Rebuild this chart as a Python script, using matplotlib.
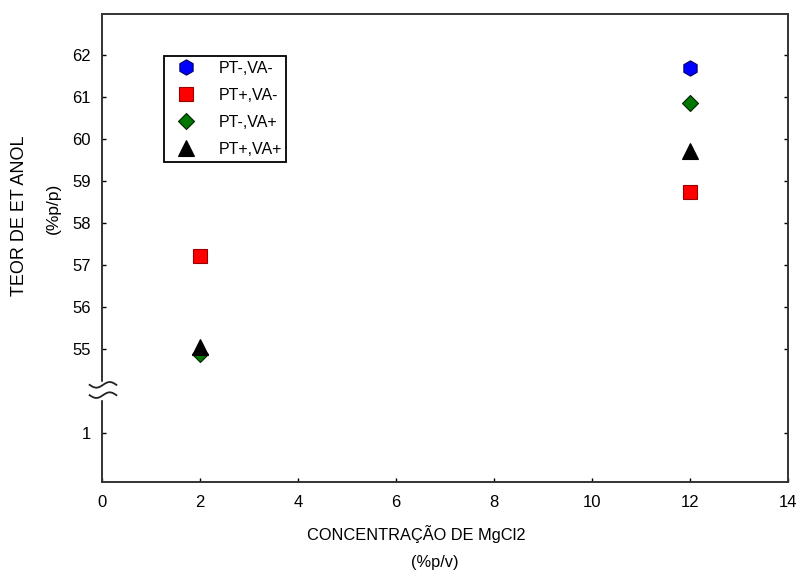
import numpy as np
import matplotlib
matplotlib.use("Agg")
import matplotlib.pyplot as plt

plt.rcParams['font.family'] = ['Liberation Sans', 'DejaVu Sans']

# data (y on the broken scale: 1 is shown just below the break)
x_vals = [2, 12]
pt_m_va_m = [61.7]          # blue, only visible at x=12
pt_p_va_m = [57.22, 58.75]  # red
pt_m_va_p = [54.88, 60.86]  # green
pt_p_va_p = [55.05, 59.72]  # black

y_ticks = [1, 55, 56, 57, 58, 59, 60, 61, 62]
x_ticks = [0, 2, 4, 6, 8, 10, 12, 14]

BREAK_LO = 1     # real value below the break
BREAK_POS = 53   # where it sits on the drawn scale


def ymap(v):
    v = np.asarray(v, dtype=float)
    return np.where(v < 10, v - BREAK_LO + BREAK_POS, v)


fig = plt.figure(figsize=(7.98, 5.72), dpi=100)
ax = fig.add_axes([0.1278, 0.1573, 0.8597, 0.8182])

ax.plot([12], ymap(pt_m_va_m), 'h', ms=11, mfc='#0000ff', mec='#000066', mew=0.8,
        ls='none', label='PT-,VA-')
ax.plot(x_vals, ymap(pt_p_va_m), 's', ms=10, mfc='#ff0000', mec='#990000', mew=0.8,
        ls='none', label='PT+,VA-')
ax.plot(x_vals, ymap(pt_m_va_p), 'D', ms=8, mfc='#007700', mec='#002200', mew=0.8,
        ls='none', label='PT-,VA+')
ax.plot(x_vals, ymap(pt_p_va_p), '^', ms=11, mfc='#000000', mec='#000000', mew=0.8,
        ls='none', label='PT+,VA+')

ax.set_xlim(0, 14)
ax.set_ylim(51.83, 62.98)
ax.set_xticks(x_ticks)
ax.set_yticks(ymap(y_ticks))
ax.set_yticklabels([str(t) for t in y_ticks])
ax.tick_params(direction='in', length=3, width=1, labelsize=12,
               top=False, right=True, pad=8)
ax.tick_params(axis='x', pad=9)
for s in ax.spines.values():
    s.set_linewidth(1.4)
    s.set_color('#333333')

# axis break marks on the left spine
yb = (54 - 51.83) / (62.98 - 51.83)
t = np.linspace(-0.018, 0.021, 50)
ax.fill_between(t, yb - 0.018, yb + 0.020, color='white', transform=ax.transAxes,
                clip_on=False, zorder=5)
for dy in (0.013, -0.009):
    yy = yb + dy + 0.006 * np.sin((t - 0.0015) / 0.0195 * np.pi)
    ax.plot(t, yy, color='#222222', lw=1.3, transform=ax.transAxes, clip_on=False, zorder=6)

# axis titles
fig.text(416 / 798, 1 - 534 / 572, 'CONCENTRAÇÃO DE MgCl2', fontsize=11.8,
         ha='center', va='center')
fig.text(435 / 798, 1 - 562 / 572, '(%p/v)', fontsize=11.8, ha='center', va='center')
fig.text(20 / 798, 1 - 216 / 572, 'TEOR DE ET ANOL', fontsize=13, rotation=90,
         ha='center', va='center')
fig.text(53 / 798, 1 - 208 / 572, '(%p/p)', fontsize=12.5, rotation=90,
         ha='center', va='center')

leg = ax.legend(loc='upper left', bbox_to_anchor=(0.0904, 0.910), fontsize=11.5,
                frameon=True, fancybox=False, edgecolor='black', framealpha=1,
                borderpad=0.3, handletextpad=1.0, labelspacing=0.75,
                handlelength=2.1, borderaxespad=0)
leg.get_frame().set_linewidth(1.3)

fig.savefig('out.png', dpi=100)
